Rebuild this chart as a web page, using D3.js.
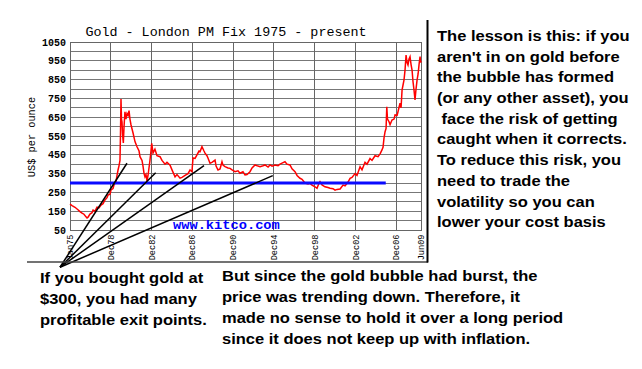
<!DOCTYPE html>
<html><head><meta charset="utf-8">
<script src="https://cdn.jsdelivr.net/npm/d3@7"></script>
<style>body{margin:0;background:#fff}svg{display:block}</style>
</head><body>
<svg id="c" width="642" height="369"></svg>
<script>
// ---- data ----
const title = "Gold - London PM Fix 1975 - present";
const yAxisTitle = "US$ per ounce";
const watermark = "www.kitco.com";
const yTicks = [50,150,250,350,450,550,650,750,850,950,1050];
const yGrid = d3.range(50, 1051, 50);
const xTickDates = ["1975-01-01","1978-12-31","1982-12-31","1986-12-31","1990-12-31","1994-12-31","1998-12-31","2002-12-31","2006-12-31","2009-06-01"];
const xTickLabels = ["Jan75","Dec78","Dec82","Dec86","Dec90","Dec94","Dec98","Dec02","Dec06","Jun09"];
// gold price (decimal year, US$)
const goldYears = [1975.00,1975.20,1975.49,1975.78,1975.98,1976.18,1976.37,1976.57,1976.67,1976.77,1976.96,1977.16,1977.26,1977.45,1977.65,1977.84,1978.04,1978.24,1978.43,1978.63,1978.73,1978.92,1979.02,1979.22,1979.31,1979.51,1979.61,1979.71,1979.80,1979.90,1979.95,1980.00,1980.05,1980.10,1980.15,1980.23,1980.30,1980.39,1980.49,1980.59,1980.69,1980.79,1980.88,1980.98,1981.18,1981.37,1981.57,1981.77,1981.86,1982.06,1982.16,1982.26,1982.35,1982.45,1982.55,1982.65,1982.84,1982.94,1983.01,1983.14,1983.33,1983.53,1983.83,1984.02,1984.32,1984.51,1984.81,1985.00,1985.30,1985.49,1985.79,1985.98,1986.28,1986.57,1986.77,1986.96,1987.06,1987.26,1987.45,1987.65,1987.75,1987.94,1988.14,1988.24,1988.43,1988.53,1988.73,1988.92,1989.22,1989.32,1989.51,1989.71,1989.90,1990.00,1990.20,1990.49,1990.69,1990.89,1991.18,1991.47,1991.67,1991.96,1992.16,1992.36,1992.65,1992.85,1993.14,1993.44,1993.63,1993.93,1994.12,1994.42,1994.61,1994.81,1995.10,1995.40,1995.59,1995.89,1996.08,1996.28,1996.57,1996.77,1997.06,1997.26,1997.55,1997.75,1998.04,1998.34,1998.53,1998.73,1999.02,1999.22,1999.42,1999.51,1999.71,2000.00,2000.30,2000.50,2000.79,2000.99,2001.18,2001.48,2001.77,2001.97,2002.26,2002.46,2002.65,2002.95,2003.14,2003.44,2003.63,2003.93,2004.12,2004.42,2004.61,2004.91,2005.20,2005.40,2005.59,2005.69,2005.79,2005.89,2005.99,2006.06,2006.13,2006.28,2006.38,2006.57,2006.77,2006.87,2007.07,2007.16,2007.36,2007.46,2007.56,2007.65,2007.75,2007.85,2007.95,2008.05,2008.14,2008.24,2008.34,2008.44,2008.54,2008.63,2008.73,2008.83,2008.93,2009.03,2009.13,2009.22,2009.32,2009.37,2009.42];
const goldPrices = [188,180,171,158,148,140,134,120,114,118,135,142,156,150,171,168,183,190,210,222,236,240,263,270,289,307,340,369,390,420,560,747,640,626,560,513,600,679,640,670,660,685,640,610,566,520,493,470,440,420,390,350,333,345,310,340,420,470,511,460,480,445,440,420,400,410,395,370,333,345,326,330,340,350,369,360,433,431,450,470,467,493,470,459,445,433,405,410,422,390,369,375,413,395,387,380,378,370,360,365,352,360,343,345,360,380,396,390,387,392,396,385,396,390,396,392,400,408,413,400,396,375,360,340,325,320,300,295,298,289,280,272,300,307,290,280,276,272,270,262,266,268,289,285,305,325,330,350,340,387,370,410,400,430,420,445,440,455,476,490,540,573,590,706,640,626,610,635,640,662,660,679,724,700,795,820,848,900,981,940,928,960,972,930,901,840,795,742,800,848,880,928,972,940,950];
// $300 reference line
const refValue = 300;
const refStartYear = 1975.0, refEndYear = 2005.96;
// fan of exit lines: from a common origin to exit points (decimal year, US$)
const fanOrigin = [1974.02, -148];
const exitYears = [1980.59, 1983.40, 1988.14, 1994.88];
const exitPrices = [405, 355, 392, 339];
// annotation texts
const rightText = ["The lesson is this: if you","aren't in on gold before","the bubble has formed","(or any other asset), you"," face the risk of getting","caught when it corrects.","To reduce this risk, you","need to trade the","volatility so you can","lower your cost basis"];
const bottomLeftText = ["If you bought gold at","$300, you had many","profitable exit points."];
const bottomRightText = ["But since the gold bubble had burst, the","price was trending down. Therefore, it","made no sense to hold it over a long period","since it does not keep up with inflation."];

// ---- drawing ----
const svg = d3.select("#c");
const toDate = y => { const yr = Math.floor(y); return new Date(yr, 0, 1 + Math.round((y - yr) * 365)); };
const x = d3.scaleTime().domain([new Date(1975,0,1), new Date(2009,5,1)]).range([70, 421]);
const y = d3.scaleLinear().domain([50, 1050]).range([230, 42]);
const mono = "'Liberation Mono','DejaVu Sans Mono',monospace";
const sans = "'Liberation Sans',Arial,sans-serif";

// title
svg.append("text").attr("x", 226).attr("y", 35.5).attr("text-anchor","middle")
  .style("font-family", mono).style("font-size","13.4px").attr("fill","#000").text(title);

// grid
const g = svg.append("g");
g.selectAll("line.h").data(yGrid).join("line").attr("class","h")
  .attr("x1", 70).attr("x2", 421).attr("y1", d => y(d)).attr("y2", d => y(d))
  .attr("stroke","#777").attr("stroke-width",1).attr("shape-rendering","crispEdges");
g.selectAll("line.v").data(xTickDates).join("line").attr("class","v")
  .attr("x1", d => x(new Date(d))).attr("x2", d => x(new Date(d)))
  .attr("y1", 42).attr("y2", 230)
  .attr("stroke","#666").attr("stroke-width",1).attr("shape-rendering","crispEdges");
g.append("rect").attr("x",70).attr("y",42).attr("width",351).attr("height",188)
  .attr("fill","none").attr("stroke","#666").attr("stroke-width",1).attr("shape-rendering","crispEdges");

// y tick labels
svg.selectAll("text.yt").data(yTicks).join("text").attr("class","yt")
  .attr("x", 66).attr("y", d => y(d) + 3.5).attr("text-anchor","end")
  .style("font-family", mono).style("font-size","10px").style("font-weight","bold").text(d => d);
// y axis title
svg.append("text").attr("transform","translate(35,137) rotate(-90)").attr("text-anchor","middle")
  .style("font-family", mono).style("font-size","10.3px").text(yAxisTitle);
// x tick labels
svg.selectAll("text.xt").data(xTickDates).join("text").attr("class","xt")
  .attr("transform", d => `translate(${x(new Date(d)) + 3},234.5) rotate(-90)`)
  .attr("text-anchor","end")
  .style("font-family", mono).style("font-size","8.6px").attr("fill","#000")
  .text((d,i) => xTickLabels[i]);

// watermark
svg.append("text").attr("x",173).attr("y",229)
  .style("font-family", mono).style("font-size","13.7px").style("font-weight","bold")
  .attr("fill","#0000ff").text(watermark);

// gold line
const gold = goldYears.map((yr,i) => ({date: toDate(yr), v: goldPrices[i]}));
svg.append("path").datum(gold)
  .attr("d", d3.line().x(d => x(d.date)).y(d => y(d.v)))
  .attr("fill","none").attr("stroke","#ff0000").attr("stroke-width",1.5);

// $300 line
svg.append("line").attr("x1", x(toDate(refStartYear))).attr("x2", x(toDate(refEndYear)))
  .attr("y1", y(refValue)).attr("y2", y(refValue))
  .attr("stroke","#0a0aff").attr("stroke-width",3);

// fan lines
const ox = x(toDate(fanOrigin[0])), oy = y(fanOrigin[1]);
svg.selectAll("line.fan").data(exitYears).join("line").attr("class","fan")
  .attr("x1", ox).attr("y1", oy)
  .attr("x2", d => x(toDate(d))).attr("y2", (d,i) => y(exitPrices[i]))
  .attr("stroke","#000").attr("stroke-width",1.5);

// frame lines
svg.append("line").attr("x1",27).attr("x2",428).attr("y1",262).attr("y2",262)
  .attr("stroke","#444").attr("stroke-width",1.5);
svg.append("line").attr("x1",427.5).attr("x2",427.5).attr("y1",20).attr("y2",262.5)
  .attr("stroke","#000").attr("stroke-width",2);

// annotation text
function block(lines, x0, y0, dy) {
  const gg = svg.append("g").attr("transform", `translate(${x0},0) scale(1.18,1)`);
  gg.selectAll("text").data(lines).join("text")
    .attr("x", 0).attr("y", (d,i) => y0 + i*dy)
    .attr("xml:space","preserve").style("white-space","pre")
    .style("font-family", sans).style("font-size","14px").style("font-weight","bold")
    .attr("fill","#000").text(d => d);
}
block(rightText, 437, 41, 20.7);
block(bottomLeftText, 40, 283, 21);
block(bottomRightText, 222, 281, 21);
</script>
</body></html>
